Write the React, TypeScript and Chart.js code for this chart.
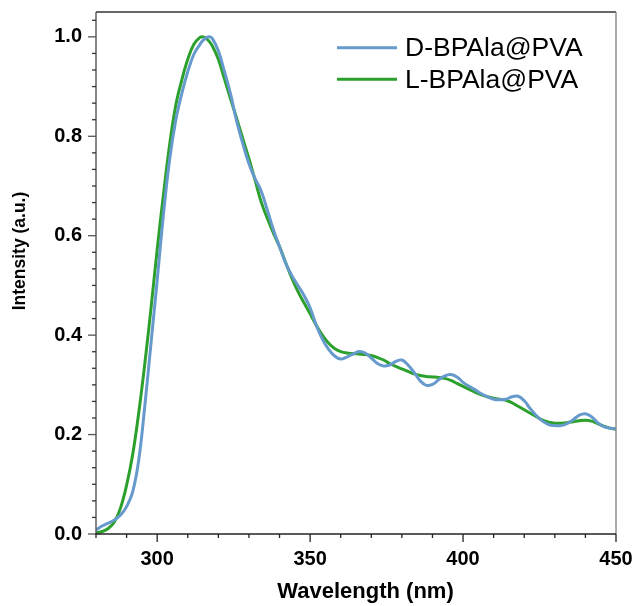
import React, { useEffect, useRef } from "react";
import { Chart, registerables } from "chart.js";

Chart.register(...registerables);

const wavelengths: number[] = [
  280, 282, 284, 286, 288, 290, 292, 294, 296, 298, 300, 302, 304, 306, 308, 310, 312, 314, 315, 316, 317, 318, 320, 322, 324,
  326, 328, 330, 332, 334, 336, 338, 340, 342, 344, 346, 348, 350, 352, 354, 356, 358, 360, 362, 364, 366, 368, 370, 372, 374,
  376, 378, 380, 382, 384, 386, 388, 390, 392, 394, 396, 398, 400, 402, 404, 406, 408, 410, 412, 414, 416, 418, 420, 422, 424,
  426, 428, 430, 432, 434, 436, 438, 440, 442, 444, 446, 448, 450,
];

const dSeries: number[] = [
  0.008, 0.016, 0.022, 0.028, 0.038, 0.055, 0.085, 0.15, 0.26, 0.385, 0.51, 0.64, 0.75, 0.83, 0.885, 0.93, 0.965, 0.985, 0.993, 0.998, 1.0, 0.997, 0.972, 0.93, 0.885,
  0.83, 0.785, 0.745, 0.715, 0.69, 0.652, 0.612, 0.578, 0.545, 0.52, 0.5, 0.48, 0.455, 0.42, 0.392, 0.372, 0.358, 0.352, 0.356, 0.362, 0.367, 0.364, 0.354, 0.343, 0.338,
  0.34, 0.347, 0.35, 0.34, 0.325, 0.308, 0.299, 0.301, 0.31, 0.318, 0.321, 0.316, 0.305, 0.297, 0.29, 0.282, 0.276, 0.271, 0.27, 0.271, 0.276, 0.277, 0.268, 0.252, 0.238,
  0.227, 0.22, 0.218, 0.218, 0.222, 0.23, 0.239, 0.242, 0.236, 0.224, 0.216, 0.213, 0.211,
];

const lSeries: number[] = [
  0.002, 0.005, 0.011, 0.024, 0.052, 0.098, 0.16, 0.245, 0.345, 0.455, 0.572, 0.68, 0.78, 0.86, 0.912, 0.955, 0.985, 0.999, 1.0, 0.997, 0.991, 0.982, 0.955, 0.915, 0.875,
  0.836, 0.795, 0.755, 0.712, 0.668, 0.635, 0.605, 0.578, 0.546, 0.515, 0.488, 0.465, 0.443, 0.42, 0.4, 0.384, 0.373, 0.367, 0.364, 0.363, 0.362, 0.361, 0.359, 0.355, 0.35,
  0.343, 0.337, 0.332, 0.327, 0.322, 0.319, 0.317, 0.316, 0.315, 0.313, 0.309, 0.303, 0.297, 0.291, 0.285, 0.28, 0.276, 0.273, 0.271, 0.269, 0.264, 0.257, 0.25, 0.243, 0.236,
  0.229, 0.225, 0.223, 0.223, 0.224, 0.226, 0.228, 0.229, 0.227, 0.222, 0.217, 0.213, 0.211,
];

const seriesLabels: string[] = ["D-BPAla@PVA", "L-BPAla@PVA"];
const seriesColors: string[] = ["#6699CC", "#2CA02C"];

const xMajorTicks: number[] = [300, 350, 400, 450];
const yMajorTicks: number[] = [0, 0.2, 0.4, 0.6, 0.8, 1.0];
const xTitle = "Wavelength (nm)";
const yTitle = "Intensity (a.u.)";

const FONT = "'Liberation Sans', Arial, sans-serif";

const zeroPad = (scale: any) => {
  scale.paddingTop = 0;
  scale.paddingBottom = 0;
  scale.paddingLeft = 0;
  scale.paddingRight = 0;
};

const decorPlugin = {
  id: "decor",
  afterDraw(chart: any) {
    const { ctx, chartArea } = chart;
    const xs = chart.scales.x;
    const ys = chart.scales.y;
    const { left, right, top, bottom } = chartArea;
    ctx.save();
    ctx.lineCap = "butt";
    ctx.lineWidth = 1.4;
    ctx.strokeStyle = "#333";
    ctx.beginPath();
    ctx.moveTo(left, top);
    ctx.lineTo(right, top);
    ctx.stroke();
    ctx.strokeStyle = "#888";
    ctx.beginPath();
    ctx.moveTo(right, top);
    ctx.lineTo(right, bottom);
    ctx.stroke();
    ctx.strokeStyle = "#555";
    ctx.beginPath();
    ctx.moveTo(left, top);
    ctx.lineTo(left, bottom + 0.7);
    ctx.stroke();
    ctx.strokeStyle = "#222";
    ctx.beginPath();
    ctx.moveTo(left - 0.7, bottom);
    ctx.lineTo(right, bottom);
    ctx.stroke();
    ctx.lineWidth = 1.3;
    for (let k = 0; k <= 31; k++) {
      const v = k / 30;
      const py = ys.getPixelForValue(v);
      const len = k % 6 === 0 ? 8 : 4;
      ctx.strokeStyle = k % 6 === 0 ? "#555" : "#333";
      ctx.beginPath();
      ctx.moveTo(left - len, py);
      ctx.lineTo(left, py);
      ctx.stroke();
    }
    for (let v = 280; v <= 450; v += 10) {
      const px = xs.getPixelForValue(v);
      const len = v % 50 === 0 ? 8 : 4;
      ctx.strokeStyle = "#222";
      ctx.beginPath();
      ctx.moveTo(px, bottom);
      ctx.lineTo(px, bottom + len);
      ctx.stroke();
    }
    ctx.fillStyle = "#000";
    ctx.font = `bold 22px ${FONT}`;
    ctx.textAlign = "center";
    ctx.textBaseline = "middle";
    ctx.fillText(xTitle, 365.5, 592);
    ctx.save();
    ctx.translate(20, 251);
    ctx.rotate(-Math.PI / 2);
    ctx.font = `bold 17.5px ${FONT}`;
    ctx.fillText(yTitle, 0, 0);
    ctx.restore();
    const rowsY = [47.7, 79.3];
    chart.data.datasets.forEach((ds: any, i: number) => {
      ctx.strokeStyle = ds.borderColor;
      ctx.lineWidth = 3;
      ctx.beginPath();
      ctx.moveTo(337, rowsY[i]);
      ctx.lineTo(397, rowsY[i]);
      ctx.stroke();
      ctx.fillStyle = "#000";
      ctx.font = `26.5px ${FONT}`;
      ctx.textAlign = "left";
      ctx.textBaseline = "middle";
      ctx.fillText(ds.label, 405, rowsY[i] + 1);
    });
    ctx.restore();
  },
};

export default function App() {
  const ref = useRef<HTMLCanvasElement | null>(null);
  useEffect(() => {
    if (!ref.current) return;
    const chart = new Chart(ref.current, {
      type: "line",
      data: {
        datasets: [dSeries, lSeries].map((s, i) => ({
          label: seriesLabels[i],
          data: wavelengths.map((w, j) => ({ x: w, y: s[j] })),
          borderColor: seriesColors[i],
          backgroundColor: seriesColors[i],
          borderWidth: 3,
          pointRadius: 0,
          tension: 0.4,
          fill: false,
        })),
      },
      options: {
        animation: false,
        responsive: false,
        events: [],
        layout: { padding: { top: 12, right: 19, left: 0, bottom: 0 } },
        plugins: { legend: { display: false }, tooltip: { enabled: false }, title: { display: false } },
        scales: {
          x: {
            type: "linear",
            min: 280,
            max: 450,
            afterBuildTicks: (scale: any) => {
              scale.ticks = xMajorTicks.map((v) => ({ value: v }));
            },
            afterFit: (scale: any) => {
              scale.height = 72;
              zeroPad(scale);
            },
            grid: { display: false, drawTicks: false },
            border: { display: false },
            ticks: {
              color: "#000",
              font: { family: FONT, size: 20, weight: "bold" },
              padding: 13,
              maxRotation: 0,
              autoSkip: false,
              callback: (v: any) => String(v),
            },
          },
          y: {
            min: 0,
            max: 1.05,
            afterBuildTicks: (scale: any) => {
              scale.ticks = yMajorTicks.map((v) => ({ value: v }));
            },
            afterFit: (scale: any) => {
              scale.width = 96;
              zeroPad(scale);
            },
            grid: { display: false, drawTicks: false },
            border: { display: false },
            ticks: {
              color: "#000",
              font: { family: FONT, size: 20, weight: "bold" },
              padding: 14,
              autoSkip: false,
              callback: (v: any) => Number(v).toFixed(1),
            },
          },
        },
      },
      plugins: [decorPlugin],
    });
    return () => chart.destroy();
  }, []);
  return (
    <div style={{ position: "fixed", left: 0, top: 0, width: 635, height: 606, background: "#fff" }}>
      <canvas ref={ref} width={635} height={606} />
    </div>
  );
}
